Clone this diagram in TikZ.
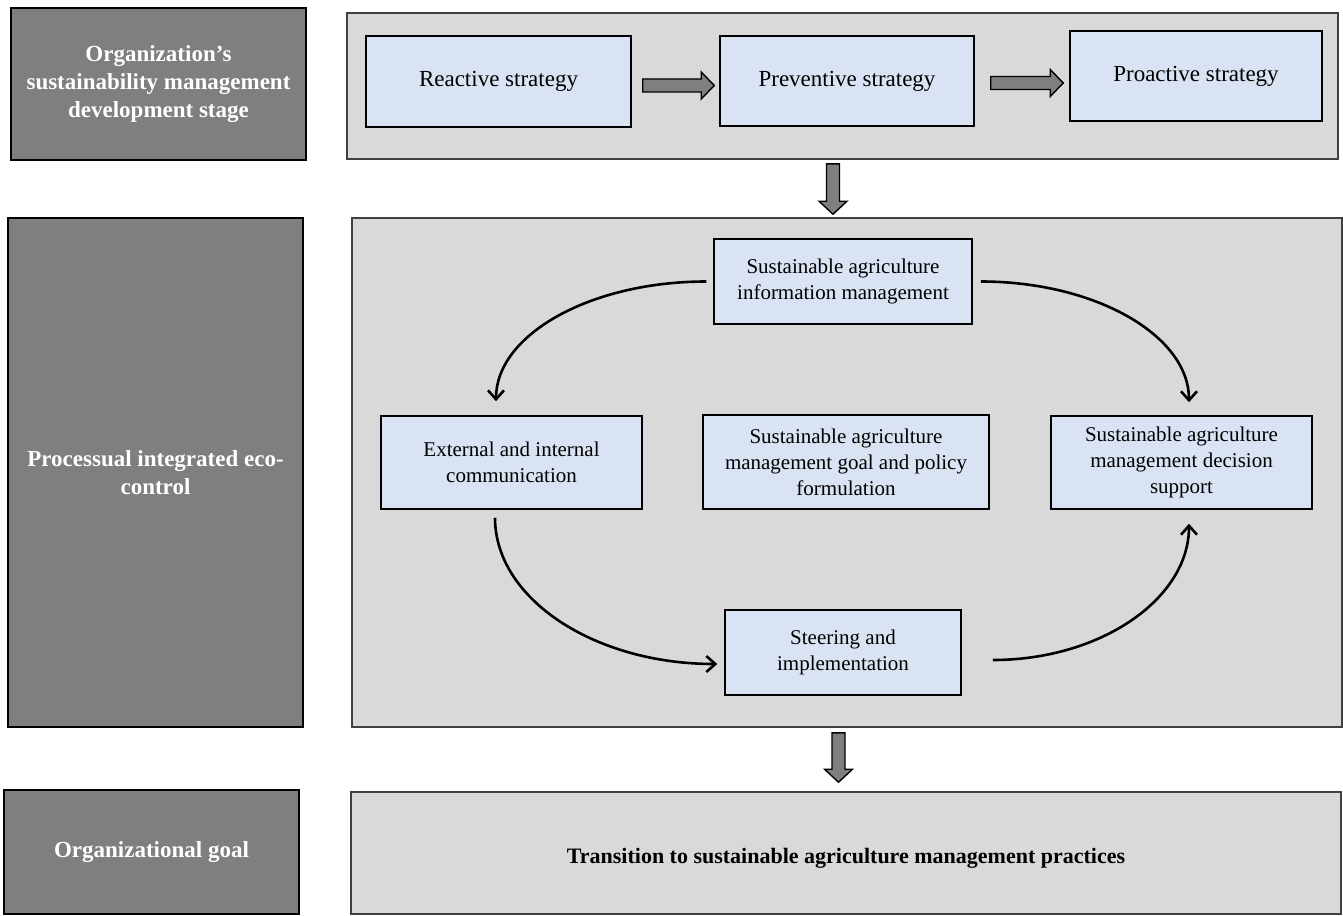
\documentclass[tikz,border=0pt]{standalone}
\usepackage{fontspec}
\setmainfont{Liberation Serif}
\usetikzlibrary{calc,arrows.meta}
\definecolor{darkbox}{HTML}{7F7F7F}
\definecolor{panelgray}{HTML}{D9D9D9}
\definecolor{lightblue}{HTML}{DAE3F3}
\newcommand\hblk[2]{\draw[blk] ($(#1)+(0,-6.5)$) -- ($(#2)+(-13,-6.5)$) -- ($(#2)+(-13,-13.5)$) -- (#2) -- ($(#2)+(-13,13.5)$) -- ($(#2)+(-13,6.5)$) -- ($(#1)+(0,6.5)$) -- cycle;}
\newcommand\vblk[2]{\draw[blk] ($(#1)+(-6.5,0)$) -- ($(#2)+(-6.5,-13)$) -- ($(#2)+(-14,-13)$) -- (#2) -- ($(#2)+(14,-13)$) -- ($(#2)+(6.5,-13)$) -- ($(#1)+(6.5,0)$) -- cycle;}
\begin{document}
\begin{tikzpicture}[x=0.5pt,y=-0.5pt,
 stagebox/.style={draw=black,line width=1pt,fill=darkbox,text=white,font=\fontsize{11.5}{13.8}\selectfont\bfseries,align=center,inner sep=0pt},
 panel/.style={draw=black!75,line width=0.8pt,fill=panelgray,inner sep=0pt},
 inbox/.style={draw=black,line width=0.75pt,fill=lightblue,align=center,inner sep=0pt,font=\fontsize{10.5}{13}\selectfont},
 topbox/.style={inbox,font=\fontsize{11.5}{14}\selectfont},
 flow/.style={line width=1.3pt,-{Straight Barb[length=4.5pt,width=8pt]}},
 blk/.style={draw=black,line width=0.7pt,fill=darkbox}]
\useasboundingbox (0,0) rectangle (1343,915);

% left column
\node[stagebox,minimum width=147.5pt,minimum height=76pt] (stage1) at (158.5,84) {Organization’s\\sustainability management\\development stage};
\node[stagebox,minimum width=147.5pt,minimum height=254.5pt] (stage2) at (155.5,472.5) {Processual integrated eco-\\control};
\node[stagebox,minimum width=147.5pt,minimum height=62pt] (stage3) at (151.5,852) {Organizational goal};

% panels
\node[panel,minimum width=495.5pt,minimum height=73pt] (toppanel) at (842.5,86) {};
\node[panel,minimum width=495pt,minimum height=254.5pt] (midpanel) at (847,472.5) {};
\node[panel,minimum width=495pt,minimum height=61pt] (botpanel) at (846,853) {};

% top row
\node[topbox,minimum width=132.5pt,minimum height=45.5pt] (reac) at (498.5,81.5) {Reactive strategy};
\node[topbox,minimum width=127pt,minimum height=45pt] (prev) at (847,81) {Preventive strategy};
\node[topbox,minimum width=126pt,minimum height=45pt] (pro) at (1196,76) {Proactive strategy};

% middle
\node[inbox,minimum width=129pt,minimum height=42.5pt] (saim) at (843,281.5) {Sustainable agriculture\\information management};
\node[inbox,minimum width=130.5pt,minimum height=46.5pt] (ext) at (511.5,462.5) {External and internal\\communication};
\node[inbox,minimum width=143pt,minimum height=47pt] (goal) at (846,462) {Sustainable agriculture\\management goal and policy\\formulation};
\node[inbox,minimum width=130.5pt,minimum height=46.5pt] (dec) at (1181.5,462.5) {Sustainable agriculture\\management decision\\support};
\node[inbox,minimum width=118pt,minimum height=42.5pt] (steer) at (843,652.5) {Steering and\\implementation};

% bottom text
\node[font=\fontsize{11}{13}\selectfont\bfseries] (btext) at (846,858) {Transition to sustainable agriculture management practices};

% block arrows
\hblk{$(reac.east)+(11,4)$}{$(prev.west)+(-5,4.5)$}
\hblk{$(prev.east)+(16,2)$}{$(pro.west)+(-6,7)$}
\vblk{$(toppanel.south)+(-9.5,4)$}{$(midpanel.north)+(-14,-3)$}
\vblk{$(midpanel.south)+(-8.5,5)$}{$(botpanel.north)+(-7.5,-9)$}

% cycle connectors
\draw[flow] ($(saim.west)+(-7,0)$) .. controls +(-116,0) and +(0,-66.5) .. ($(ext.north)+(-15.5,-14)$);
\draw[flow] ($(saim.east)+(8,0)$) .. controls +(115,0) and +(0,-66.5) .. ($(dec.north)+(7.5,-13)$);
\draw[flow] ($(ext.south)+(-16.5,8)$) .. controls +(0,81) and +(-123,0) .. ($(steer.west)+(-7,11.5)$);
\draw[flow] ($(steer.east)+(31,7.5)$) .. controls +(108,0) and +(0,75) .. ($(dec.south)+(7.5,14)$);
\end{tikzpicture}
\end{document}
